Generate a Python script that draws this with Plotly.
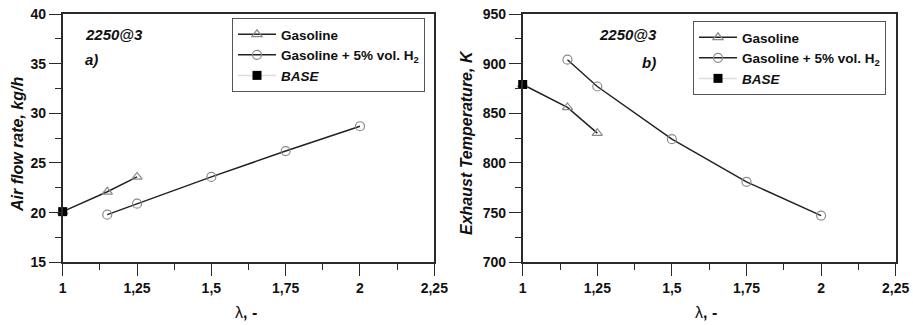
import plotly.graph_objects as go

# ---- data ----
lam_gas = [1.0, 1.15, 1.25]
lam_h2 = [1.15, 1.25, 1.5, 1.75, 2.0]
lam_base = [1.0]

air_gas = [20.1, 22.1, 23.6]
air_h2 = [19.8, 20.9, 23.6, 26.2, 28.7]
air_base = [20.1]

temp_gas = [879, 856, 830]
temp_h2 = [904, 877, 824, 781, 747]
temp_base = [879]

x_tickvals = [1, 1.25, 1.5, 1.75, 2, 2.25]
x_ticktext = ["1", "1,25", "1,5", "1,75", "2", "2,25"]
y1_tickvals = [15, 20, 25, 30, 35, 40]
y2_tickvals = [700, 750, 800, 850, 900, 950]

names = ["Gasoline", "Gasoline + 5% vol. H<sub>2</sub>", "<i>BASE</i>"]

W, H = 913, 325
FONT = "Liberation Sans, Arial, sans-serif"
LINE = "#222222"
MK = "#8a8a8a"

def px_x(p):
    return p / W

def px_y(p):
    return 1 - p / H

fig = go.Figure()

panels = [
    (lam_gas, air_gas, lam_h2, air_h2, lam_base, air_base, "x", "y", "legend"),
    (lam_gas, temp_gas, lam_h2, temp_h2, lam_base, temp_base, "x2", "y2", "legend2"),
]
for xg, yg, xh, yh, xb, yb, xa, ya, lg in panels:
    fig.add_trace(go.Scatter(x=xg, y=yg, xaxis=xa, yaxis=ya, mode="lines+markers",
                             name=names[0], legend=lg, cliponaxis=False,
                             line=dict(color=LINE, width=1.5),
                             marker=dict(symbol="triangle-up-open", size=9, color=MK,
                                         line=dict(width=1.2, color=MK))))
    fig.add_trace(go.Scatter(x=xh, y=yh, xaxis=xa, yaxis=ya, mode="lines+markers",
                             name=names[1], legend=lg, cliponaxis=False,
                             line=dict(color=LINE, width=1.5),
                             marker=dict(symbol="circle-open", size=9, color=MK,
                                         line=dict(width=1.2, color=MK))))
    fig.add_trace(go.Scatter(x=xb, y=yb, xaxis=xa, yaxis=ya, mode="lines+markers",
                             name=names[2], legend=lg, cliponaxis=False,
                             line=dict(color="#dddddd", width=1.5),
                             marker=dict(symbol="square", size=9, color="black")))

xd1 = [px_x(62.7), px_x(434.3)]
xd2 = [px_x(522.7), px_x(895.7)]
yd = [px_y(262.3), px_y(14)]

tickfont = dict(family=FONT, size=14, color="#111111", weight="bold")

def xaxis(domain, anchor):
    return dict(domain=domain, anchor=anchor, range=[1, 2.25], tickvals=x_tickvals,
                ticktext=x_ticktext, ticks="outside", ticklen=12, tickwidth=1.4,
                tickcolor="#2a2a2a", showline=True, linecolor="#2a2a2a", linewidth=1.6,
                mirror=True, showgrid=False, zeroline=False, tickfont=tickfont,
                automargin=False,
                minor=dict(tickvals=[1.125, 1.375, 1.625, 1.875, 2.125], ticks="outside",
                           ticklen=6, tickwidth=1.4, tickcolor="#2a2a2a", showgrid=False))

def yaxis(domain, anchor, rng, tv):
    step = (tv[1] - tv[0]) / 2
    return dict(domain=domain, anchor=anchor, range=rng, tickvals=tv, ticks="outside",
                ticklen=12, tickwidth=1.4, tickcolor="#2a2a2a", showline=True,
                linecolor="#2a2a2a", linewidth=1.6, mirror=True, showgrid=False,
                zeroline=False, tickfont=tickfont, automargin=False,
                minor=dict(tickvals=[t + step for t in tv[:-1]], ticks="outside",
                           ticklen=6, tickwidth=1.4, tickcolor="#2a2a2a", showgrid=False))

legend_common = dict(bgcolor="white", bordercolor="#555555", borderwidth=1,
                     font=dict(family=FONT, size=13.5, color="#111111", weight="bold"),
                     xanchor="left", yanchor="top", tracegroupgap=0, itemwidth=38)

fig.update_layout(
    width=W, height=H, margin=dict(l=0, r=0, t=0, b=0, autoexpand=False),
    paper_bgcolor="white", plot_bgcolor="white",
    xaxis=xaxis(xd1, "y"), yaxis=yaxis(yd, "x", [15, 40], y1_tickvals),
    xaxis2=xaxis(xd2, "y2"), yaxis2=yaxis(yd, "x2", [700, 950], y2_tickvals),
    legend=dict(x=px_x(232), y=px_y(18), **legend_common),
    legend2=dict(x=px_x(693), y=px_y(21), **legend_common),
    showlegend=True,
)

ann_font = dict(family=FONT, size=15, color="#111111", weight="bold", style="italic")
annos = [
    dict(text="2250@3", x=1.068, y=37.9, xref="x", yref="y"),
    dict(text="a)", x=1.068, y=35.4, xref="x", yref="y"),
    dict(text="2250@3", x=1.249, y=929, xref="x2", yref="y2"),
    dict(text="b)", x=1.393, y=901.5, xref="x2", yref="y2"),
]
for a in annos:
    fig.add_annotation(showarrow=False, xanchor="left", yanchor="middle", font=ann_font, **a)

title_font = dict(family=FONT, size=16, color="#111111", weight="bold", style="italic")
fig.add_annotation(text="Air flow rate, kg/h", x=px_x(17), y=px_y(145), xref="paper",
                   yref="paper", textangle=-90, showarrow=False, font=title_font,
                   xanchor="center", yanchor="middle")
fig.add_annotation(text="Exhaust Temperature, K", x=px_x(467), y=px_y(143), xref="paper",
                   yref="paper", textangle=-90, showarrow=False, font=title_font,
                   xanchor="center", yanchor="middle")
xt_font = dict(family=FONT, size=16, color="#111111")
fig.add_annotation(text="λ<b>, -</b>", x=px_x(246), y=px_y(312), xref="paper", yref="paper",
                   showarrow=False, font=xt_font, xanchor="center", yanchor="middle")
fig.add_annotation(text="λ<b>, -</b>", x=px_x(706), y=px_y(312), xref="paper", yref="paper",
                   showarrow=False, font=xt_font, xanchor="center", yanchor="middle")

fig.write_html("out.html")
